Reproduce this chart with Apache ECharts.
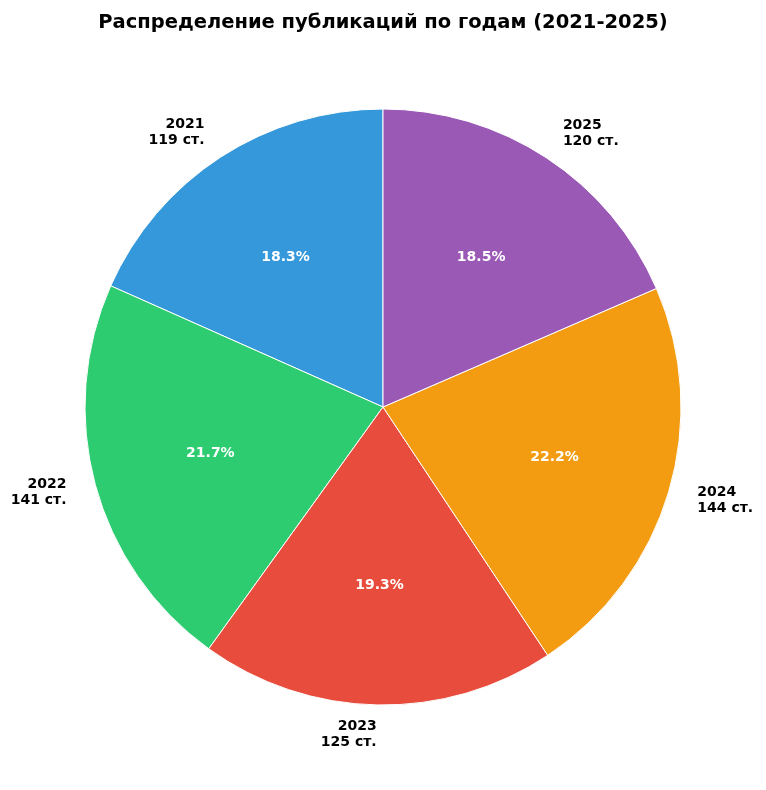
<!DOCTYPE html>
<html><head><meta charset="utf-8">
<script src="https://cdn.jsdelivr.net/npm/echarts@6/dist/echarts.min.js"></script>
<style>html,body{margin:0;padding:0;background:#fff}#c{width:766px;height:790px}</style>
</head><body><div id="c"></div>
<script>
const years = ['2021','2022','2023','2024','2025'];
const counts = [119,141,125,144,120];
const colors = ['#3498db','#2ecc71','#e74c3c','#f39c12','#9b59b6'];
const titleText = 'Распределение публикаций по годам (2021-2025)';
const unit = ' ст.';

const total = counts.reduce((a,b)=>a+b,0);
const data = years.map((y,i)=>({name:y,value:counts[i]}));
const chart = echarts.init(document.getElementById('c'), null, {renderer:'canvas'});
const R = 298;
const C = [383,407];
const font = 'DejaVu Sans';
chart.setOption({
  animation:false,
  title:{text:titleText,left:'center',top:8,textStyle:{fontFamily:font,fontSize:19.5,fontWeight:'bold',color:'#000'}},
  series:[
    {type:'pie', center:C, radius:[0,R], startAngle:90, clockwise:false, avoidLabelOverlap:false,
     color:colors, data:data, silent:true,
     itemStyle:{borderColor:'#fff',borderWidth:1},
     label:{show:true, position:'outside', formatter:p=>p.name+'\n'+p.value+unit,
            fontFamily:font, fontSize:14, fontWeight:'bold', color:'#000', lineHeight:16, distanceToLabelLine:0},
     labelLine:{show:false, length:R*0.1, length2:0},
     emphasis:{disabled:true}},
    {type:'pie', center:C, radius:[R*0.18,R], startAngle:90, clockwise:false, avoidLabelOverlap:false,
     data:data, silent:true,
     itemStyle:{color:'rgba(0,0,0,0)', borderWidth:0},
     label:{show:true, position:'inside', formatter:p=>(p.value/total*100).toFixed(1)+'%',
            fontFamily:font, fontSize:14, fontWeight:'bold', color:'#fff'},
     labelLine:{show:false},
     emphasis:{disabled:true}}
  ]
});
</script></body></html>
